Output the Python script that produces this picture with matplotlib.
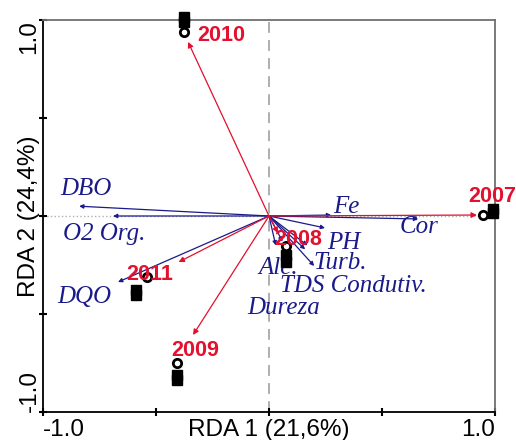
import matplotlib.pyplot as plt
import matplotlib.transforms as mtransforms

# Years (samples) - arrows, circles and stacked squares
years = ['2007', '2008', '2009', '2010', '2011']
year_x = [0.92, 0.04, -0.336, -0.358, -0.40]
year_y = [0.005, -0.087, -0.607, 0.888, -0.235]
year_lab_x = [0.99, 0.128, -0.327, -0.212, -0.527]
year_lab_y = [0.097, -0.122, -0.684, 0.923, -0.296]
circ_x = [0.947, 0.075, -0.407, -0.376, -0.54]
circ_y = [0.005, -0.153, -0.75, 0.939, -0.311]
sq_x = [0.991, 0.991, 0.075, 0.075, -0.407, -0.407, -0.376, -0.376, -0.588, -0.588]
sq_y = [0.036, 0.015, -0.199, -0.235, -0.811, -0.837, 1.015, 0.99, -0.378, -0.403]

# Environmental variables - arrows
var_x = [-0.84, -0.69, -0.668, 0.275, 0.66, 0.248, 0.2, 0.16, 0.17, 0.06, 0.03]
var_y = [0.05, 0.0, -0.337, 0.005, -0.015, -0.061, -0.255, -0.17, -0.15, -0.13, -0.15]

# Variable labels
var_labels = ['DBO', 'O2 Org.', 'DQO', 'Fe', 'Cor', 'PH', 'Alc.', 'Turb.', 'TDS Condutiv.', 'Dureza']
lab_x = [-0.925, -0.91, -0.938, 0.283, 0.58, 0.257, -0.049, 0.195, 0.049, -0.097]
lab_y = [0.14, -0.092, -0.413, 0.046, -0.056, -0.138, -0.265, -0.24, -0.357, -0.469]

red = '#e3102e'
navy = '#1a1a8a'

fig = plt.figure(figsize=(5.16, 4.4), dpi=100)
ax = fig.add_axes([0.0833, 0.0636, 0.876, 0.891])
ax.set_xlim(-1.0, 1.0)
ax.set_ylim(-1.0, 1.0)

# frame
for s in ['top', 'right']:
    ax.spines[s].set_color('#707070')
    ax.spines[s].set_linewidth(1.3)
for s in ['left', 'bottom']:
    ax.spines[s].set_color('black')
    ax.spines[s].set_linewidth(1.3)

ticks = [-1.0, -0.5, 0.0, 0.5, 1.0]
ax.set_xticks(ticks)
ax.set_yticks(ticks)
ax.tick_params(direction='inout', length=6, width=1.5, labelbottom=False, labelleft=False)

# zero lines
ax.axvline(0, color='#a8a8a8', lw=1.3, ls=(0, (6, 4)), zorder=1)
ax.axhline(0, color='#b0b0b0', lw=1.0, ls=':', zorder=1)

# variable arrows
for x, y in zip(var_x, var_y):
    ax.annotate('', xy=(x, y), xytext=(0, 0),
                arrowprops=dict(arrowstyle='-|>', color=navy, lw=0.9,
                                mutation_scale=6, shrinkA=0, shrinkB=0),
                zorder=3)
for t, x, y in zip(var_labels, lab_x, lab_y):
    ax.text(x, y, t, color=navy, fontsize=18, style='italic',
            family='Liberation Serif', ha='left', va='center', zorder=4)

# year arrows
for x, y in zip(year_x, year_y):
    ax.annotate('', xy=(x, y), xytext=(0, 0),
                arrowprops=dict(arrowstyle='-|>', color=red, lw=0.9,
                                mutation_scale=8, shrinkA=0, shrinkB=0),
                zorder=3)

# site markers
ax.plot(sq_x, sq_y, 's', color='black', ms=6.5, ls='none', clip_on=False, zorder=5)
ax.plot(circ_x, circ_y, 'o', mfc='white', mec='black', mew=2, ms=6,
        ls='none', clip_on=False, zorder=6)

for t, x, y in zip(years, year_lab_x, year_lab_y):
    ax.text(x, y, t, color=red, fontsize=15.5, fontweight='bold',
            family='Liberation Sans', ha='center', va='center', zorder=7)

# axis labels placed like the original (inside the range)
fs = 17.5
trx = mtransforms.blended_transform_factory(ax.transData, ax.transAxes)
ax.text(-1.0, -0.018, '-1.0', transform=trx, ha='left', va='top', fontsize=fs, family='Liberation Sans')
ax.text(1.0, -0.018, '1.0', transform=trx, ha='right', va='top', fontsize=fs, family='Liberation Sans')
ax.text(0.0, -0.018, 'RDA 1 (21,6%)', transform=trx, ha='center', va='top', fontsize=fs, family='Liberation Sans')

try_ = mtransforms.blended_transform_factory(ax.transAxes, ax.transData)
ax.text(-0.03, 1.0, '1.0', transform=try_, rotation=90, ha='center', va='top', fontsize=fs, family='Liberation Sans')
ax.text(-0.03, -1.0, '-1.0', transform=try_, rotation=90, ha='center', va='bottom', fontsize=fs, family='Liberation Sans')
ax.text(-0.03, 0.0, 'RDA 2 (24,4%)', transform=try_, rotation=90, ha='center', va='center', fontsize=fs, family='Liberation Sans')

fig.savefig('out.png', dpi=100)
